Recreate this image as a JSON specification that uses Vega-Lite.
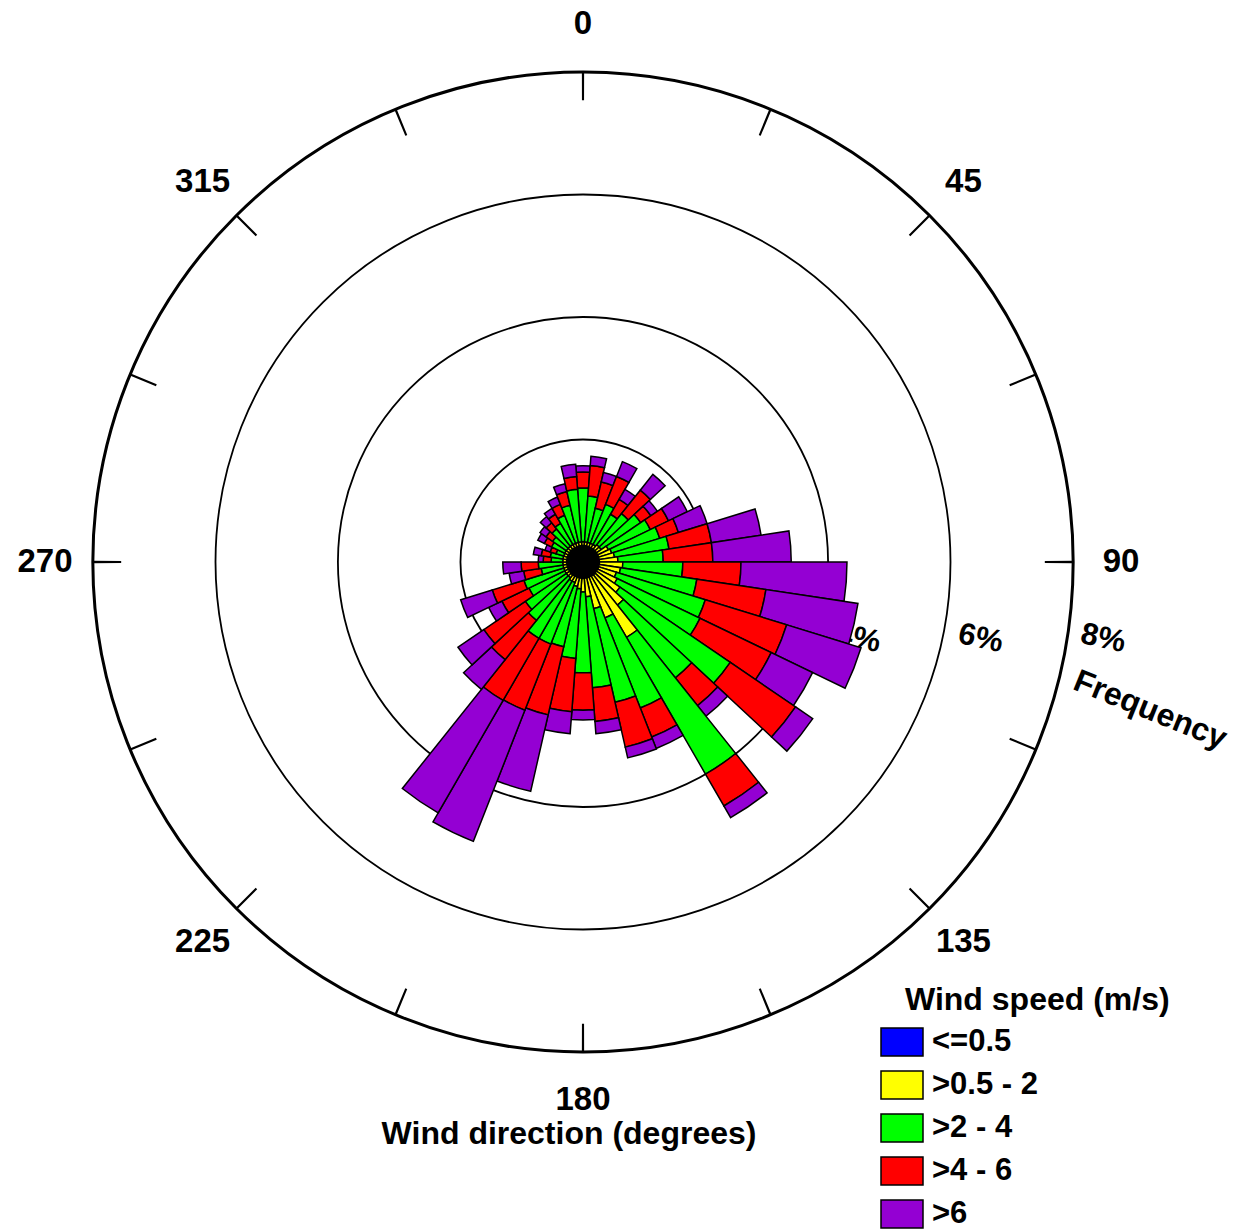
{
  "$schema": "https://vega.github.io/schema/vega-lite/v6.json",
  "width": 980,
  "height": 980,
  "autosize": {"type": "none"},
  "padding": {"left": 93, "top": 72, "right": 170, "bottom": 178},
  "background": "white",
  "config": {"view": {"stroke": null}, "font": "Liberation Sans"},
  "datasets": {
    "wind": [
      {"d":0,"s":"<=0.5","f":0.05},{"d":0,"s":">0.5 - 2","f":0.28},{"d":0,"s":">2 - 4","f":0.88},{"d":0,"s":">4 - 6","f":0.26},{"d":0,"s":">6","f":0.10},
      {"d":8.57,"s":"<=0.5","f":0.05},{"d":8.57,"s":">0.5 - 2","f":0.28},{"d":8.57,"s":">2 - 4","f":0.75},{"d":8.57,"s":">4 - 6","f":0.50},{"d":8.57,"s":">6","f":0.15},
      {"d":17.14,"s":"<=0.5","f":0.05},{"d":17.14,"s":">0.5 - 2","f":0.28},{"d":17.14,"s":">2 - 4","f":0.57},{"d":17.14,"s":">4 - 6","f":0.44},{"d":17.14,"s":">6","f":0.16},
      {"d":25.71,"s":"<=0.5","f":0.05},{"d":25.71,"s":">0.5 - 2","f":0.28},{"d":25.71,"s":">2 - 4","f":0.68},{"d":25.71,"s":">4 - 6","f":0.49},{"d":25.71,"s":">6","f":0.26},
      {"d":34.29,"s":"<=0.5","f":0.05},{"d":34.29,"s":">0.5 - 2","f":0.28},{"d":34.29,"s":">2 - 4","f":0.57},{"d":34.29,"s":">4 - 6","f":0.28},{"d":34.29,"s":">6","f":0.19},
      {"d":42.86,"s":"<=0.5","f":0.05},{"d":42.86,"s":">0.5 - 2","f":0.31},{"d":42.86,"s":">2 - 4","f":0.65},{"d":42.86,"s":">4 - 6","f":0.49},{"d":42.86,"s":">6","f":0.33},
      {"d":51.43,"s":"<=0.5","f":0.05},{"d":51.43,"s":">0.5 - 2","f":0.31},{"d":51.43,"s":">2 - 4","f":0.78},{"d":51.43,"s":">4 - 6","f":0.20},{"d":51.43,"s":">6","f":0.13},
      {"d":60,"s":"<=0.5","f":0.05},{"d":60,"s":">0.5 - 2","f":0.41},{"d":60,"s":">2 - 4","f":0.76},{"d":60,"s":">4 - 6","f":0.33},{"d":60,"s":">6","f":0.34},
      {"d":68.57,"s":"<=0.5","f":0.05},{"d":68.57,"s":">0.5 - 2","f":0.44},{"d":68.57,"s":">2 - 4","f":0.82},{"d":68.57,"s":">4 - 6","f":0.32},{"d":68.57,"s":">6","f":0.49},
      {"d":77.14,"s":"<=0.5","f":0.05},{"d":77.14,"s":">0.5 - 2","f":0.47},{"d":77.14,"s":">2 - 4","f":0.90},{"d":77.14,"s":">4 - 6","f":0.70},{"d":77.14,"s":">6","f":0.82},
      {"d":85.71,"s":"<=0.5","f":0.05},{"d":85.71,"s":">0.5 - 2","f":0.52},{"d":85.71,"s":">2 - 4","f":0.74},{"d":85.71,"s":">4 - 6","f":0.81},{"d":85.71,"s":">6","f":1.28},
      {"d":94.29,"s":"<=0.5","f":0.05},{"d":94.29,"s":">0.5 - 2","f":0.60},{"d":94.29,"s":">2 - 4","f":0.98},{"d":94.29,"s":">4 - 6","f":0.95},{"d":94.29,"s":">6","f":1.73},
      {"d":102.86,"s":"<=0.5","f":0.05},{"d":102.86,"s":">0.5 - 2","f":0.57},{"d":102.86,"s":">2 - 4","f":1.26},{"d":102.86,"s":">4 - 6","f":1.14},{"d":102.86,"s":">6","f":1.52},
      {"d":111.43,"s":"<=0.5","f":0.05},{"d":111.43,"s":">0.5 - 2","f":0.52},{"d":111.43,"s":">2 - 4","f":1.52},{"d":111.43,"s":">4 - 6","f":1.39},{"d":111.43,"s":">6","f":1.27},
      {"d":120,"s":"<=0.5","f":0.05},{"d":120,"s":">0.5 - 2","f":0.57},{"d":120,"s":">2 - 4","f":1.50},{"d":120,"s":">4 - 6","f":1.29},{"d":120,"s":">6","f":0.75},
      {"d":128.57,"s":"<=0.5","f":0.05},{"d":128.57,"s":">0.5 - 2","f":0.68},{"d":128.57,"s":">2 - 4","f":2.18},{"d":128.57,"s":">4 - 6","f":1.29},{"d":128.57,"s":">6","f":0.34},
      {"d":137.14,"s":"<=0.5","f":0.05},{"d":137.14,"s":">0.5 - 2","f":0.85},{"d":137.14,"s":">2 - 4","f":1.52},{"d":137.14,"s":">4 - 6","f":0.58},{"d":137.14,"s":">6","f":0.22},
      {"d":145.71,"s":"<=0.5","f":0.05},{"d":145.71,"s":">0.5 - 2","f":1.37},{"d":145.71,"s":">2 - 4","f":2.58},{"d":145.71,"s":">4 - 6","f":0.60},{"d":145.71,"s":">6","f":0.22},
      {"d":154.29,"s":"<=0.5","f":0.05},{"d":154.29,"s":">0.5 - 2","f":0.93},{"d":154.29,"s":">2 - 4","f":1.58},{"d":154.29,"s":">4 - 6","f":0.51},{"d":154.29,"s":">6","f":0.20},
      {"d":162.86,"s":"<=0.5","f":0.05},{"d":162.86,"s":">0.5 - 2","f":0.73},{"d":162.86,"s":">2 - 4","f":1.57},{"d":162.86,"s":">4 - 6","f":0.75},{"d":162.86,"s":">6","f":0.18},
      {"d":171.43,"s":"<=0.5","f":0.05},{"d":171.43,"s":">0.5 - 2","f":0.52},{"d":171.43,"s":">2 - 4","f":1.49},{"d":171.43,"s":">4 - 6","f":0.55},{"d":171.43,"s":">6","f":0.20},
      {"d":180,"s":"<=0.5","f":0.05},{"d":180,"s":">0.5 - 2","f":0.44},{"d":180,"s":">2 - 4","f":1.32},{"d":180,"s":">4 - 6","f":0.61},{"d":180,"s":">6","f":0.16},
      {"d":188.57,"s":"<=0.5","f":0.05},{"d":188.57,"s":">0.5 - 2","f":0.39},{"d":188.57,"s":">2 - 4","f":1.14},{"d":188.57,"s":">4 - 6","f":0.87},{"d":188.57,"s":">6","f":0.36},
      {"d":197.14,"s":"<=0.5","f":0.05},{"d":197.14,"s":">0.5 - 2","f":0.36},{"d":197.14,"s":">2 - 4","f":1.01},{"d":197.14,"s":">4 - 6","f":1.14},{"d":197.14,"s":">6","f":1.28},
      {"d":205.71,"s":"<=0.5","f":0.05},{"d":205.71,"s":">0.5 - 2","f":0.31},{"d":205.71,"s":">2 - 4","f":1.08},{"d":205.71,"s":">4 - 6","f":1.16},{"d":205.71,"s":">6","f":2.30},
      {"d":214.29,"s":"<=0.5","f":0.05},{"d":214.29,"s":">0.5 - 2","f":0.31},{"d":214.29,"s":">2 - 4","f":1.08},{"d":214.29,"s":">4 - 6","f":1.17},{"d":214.29,"s":">6","f":2.12},
      {"d":222.86,"s":"<=0.5","f":0.05},{"d":222.86,"s":">0.5 - 2","f":0.28},{"d":222.86,"s":">2 - 4","f":0.89},{"d":222.86,"s":">4 - 6","f":0.82},{"d":222.86,"s":">6","f":0.62},
      {"d":231.43,"s":"<=0.5","f":0.05},{"d":231.43,"s":">0.5 - 2","f":0.28},{"d":231.43,"s":">2 - 4","f":0.81},{"d":231.43,"s":">4 - 6","f":0.82},{"d":231.43,"s":">6","f":0.51},
      {"d":240,"s":"<=0.5","f":0.05},{"d":240,"s":">0.5 - 2","f":0.28},{"d":240,"s":">2 - 4","f":0.65},{"d":240,"s":">4 - 6","f":0.49},{"d":240,"s":">6","f":0.24},
      {"d":248.57,"s":"<=0.5","f":0.05},{"d":248.57,"s":">0.5 - 2","f":0.28},{"d":248.57,"s":">2 - 4","f":0.68},{"d":248.57,"s":">4 - 6","f":0.54},{"d":248.57,"s":">6","f":0.54},
      {"d":257.14,"s":"<=0.5","f":0.05},{"d":257.14,"s":">0.5 - 2","f":0.28},{"d":257.14,"s":">2 - 4","f":0.36},{"d":257.14,"s":">4 - 6","f":0.29},{"d":257.14,"s":">6","f":0.24},
      {"d":265.71,"s":"<=0.5","f":0.05},{"d":265.71,"s":">0.5 - 2","f":0.28},{"d":265.71,"s":">2 - 4","f":0.40},{"d":265.71,"s":">4 - 6","f":0.28},{"d":265.71,"s":">6","f":0.30},
      {"d":274.29,"s":"<=0.5","f":0.05},{"d":274.29,"s":">0.5 - 2","f":0.28},{"d":274.29,"s":">2 - 4","f":0.19},{"d":274.29,"s":">4 - 6","f":0.13},{"d":274.29,"s":">6","f":0.08},
      {"d":282.86,"s":"<=0.5","f":0.05},{"d":282.86,"s":">0.5 - 2","f":0.28},{"d":282.86,"s":">2 - 4","f":0.21},{"d":282.86,"s":">4 - 6","f":0.15},{"d":282.86,"s":">6","f":0.13},
      {"d":291.43,"s":"<=0.5","f":0.05},{"d":291.43,"s":">0.5 - 2","f":0.28},{"d":291.43,"s":">2 - 4","f":0.13},{"d":291.43,"s":">4 - 6","f":0.10},{"d":291.43,"s":">6","f":0.09},
      {"d":300,"s":"<=0.5","f":0.05},{"d":300,"s":">0.5 - 2","f":0.28},{"d":300,"s":">2 - 4","f":0.24},{"d":300,"s":">4 - 6","f":0.13},{"d":300,"s":">6","f":0.12},
      {"d":308.57,"s":"<=0.5","f":0.05},{"d":308.57,"s":">0.5 - 2","f":0.28},{"d":308.57,"s":">2 - 4","f":0.27},{"d":308.57,"s":">4 - 6","f":0.13},{"d":308.57,"s":">6","f":0.12},
      {"d":317.14,"s":"<=0.5","f":0.05},{"d":317.14,"s":">0.5 - 2","f":0.28},{"d":317.14,"s":">2 - 4","f":0.36},{"d":317.14,"s":">4 - 6","f":0.13},{"d":317.14,"s":">6","f":0.13},
      {"d":325.71,"s":"<=0.5","f":0.05},{"d":325.71,"s":">0.5 - 2","f":0.28},{"d":325.71,"s":">2 - 4","f":0.40},{"d":325.71,"s":">4 - 6","f":0.17},{"d":325.71,"s":">6","f":0.11},
      {"d":334.29,"s":"<=0.5","f":0.05},{"d":334.29,"s":">0.5 - 2","f":0.28},{"d":334.29,"s":">2 - 4","f":0.49},{"d":334.29,"s":">4 - 6","f":0.19},{"d":334.29,"s":">6","f":0.13},
      {"d":342.86,"s":"<=0.5","f":0.05},{"d":342.86,"s":">0.5 - 2","f":0.28},{"d":342.86,"s":">2 - 4","f":0.62},{"d":342.86,"s":">4 - 6","f":0.23},{"d":342.86,"s":">6","f":0.13},
      {"d":351.43,"s":"<=0.5","f":0.05},{"d":351.43,"s":">0.5 - 2","f":0.28},{"d":351.43,"s":">2 - 4","f":0.86},{"d":351.43,"s":">4 - 6","f":0.21},{"d":351.43,"s":">6","f":0.20}
    ]
  },
  "layer": [
    {
      "data": {"values": [{"v": 2}, {"v": 4}, {"v": 6}]},
      "mark": {"type": "arc", "filled": false, "stroke": "black", "strokeWidth": 1.8, "theta": 0, "theta2": 6.2832},
      "encoding": {"radius": {"field": "v", "type": "quantitative", "stack": null, "scale": {"type": "linear", "domain": [0, 8], "range": [0, 490]}}}
    },
    {
      "data": {"values": [{"v": 8}]},
      "mark": {"type": "arc", "filled": false, "stroke": "black", "strokeWidth": 3, "theta": 0, "theta2": 6.2832},
      "encoding": {"radius": {"field": "v", "type": "quantitative", "stack": null, "scale": {"type": "linear", "domain": [0, 8], "range": [0, 490]}}}
    },
    {
      "data": {"values": [{"t": 0}, {"t": 22.5}, {"t": 45}, {"t": 67.5}, {"t": 90}, {"t": 112.5}, {"t": 135}, {"t": 157.5}, {"t": 180}, {"t": 202.5}, {"t": 225}, {"t": 247.5}, {"t": 270}, {"t": 292.5}, {"t": 315}, {"t": 337.5}]},
      "mark": {"type": "arc", "fill": "black", "thetaOffset": -0.0023, "theta2Offset": 0.0023},
      "encoding": {
        "theta": {"field": "t", "type": "quantitative", "stack": null, "scale": {"type": "linear", "domain": [0, 360], "range": [0, 6.283185307]}},
        "theta2": {"field": "t"},
        "radius": {"datum": 8, "type": "quantitative", "scale": {"type": "linear", "domain": [0, 8], "range": [0, 490]}},
        "radius2": {"datum": 7.54}
      }
    },
    {
      "data": {"values": [{"a": 0}, {"a": 45}, {"a": 90}, {"a": 135}, {"a": 180}, {"a": 225}, {"a": 270}, {"a": 315}]},
      "mark": {"type": "text", "radiusOffset": 48, "fontSize": 33, "fontWeight": "bold", "font": "Liberation Sans", "align": "center", "baseline": "middle", "color": "black"},
      "encoding": {
        "theta": {"field": "a", "type": "quantitative", "stack": null, "scale": {"type": "linear", "domain": [0, 360], "range": [0, 6.283185307]}},
        "radius": {"datum": 8, "type": "quantitative", "scale": {"type": "linear", "domain": [0, 8], "range": [0, 490]}},
        "text": {"field": "a", "type": "quantitative", "format": "d"}
      }
    },
    {
      "data": {"values": [{"t": "Wind direction (degrees)"}]},
      "mark": {"type": "text", "radiusOffset": 82, "dx": -14, "fontSize": 32, "fontWeight": "bold", "font": "Liberation Sans", "align": "center", "baseline": "middle", "color": "black"},
      "encoding": {
        "theta": {"datum": 180, "type": "quantitative", "scale": {"type": "linear", "domain": [0, 360], "range": [0, 6.283185307]}},
        "radius": {"datum": 8, "type": "quantitative", "scale": {"type": "linear", "domain": [0, 8], "range": [0, 490]}},
        "text": {"field": "t", "type": "nominal"}
      }
    },
    {
      "data": {"values": [{"v": 4, "lab": "4%"}, {"v": 6, "lab": "6%"}, {"v": 8, "lab": "8%"}]},
      "mark": {"type": "text", "radiusOffset": 30, "dx": 16, "dy": 75, "angle": 12, "fontSize": 31, "fontWeight": "bold", "font": "Liberation Sans", "align": "center", "baseline": "middle", "color": "black"},
      "encoding": {
        "theta": {"datum": 90, "type": "quantitative", "scale": {"type": "linear", "domain": [0, 360], "range": [0, 6.283185307]}},
        "radius": {"field": "v", "type": "quantitative", "stack": null, "scale": {"type": "linear", "domain": [0, 8], "range": [0, 490]}},
        "text": {"field": "lab", "type": "nominal"}
      }
    },
    {
      "data": {"values": [{"t": "Frequency"}]},
      "mark": {"type": "text", "radiusOffset": 0, "dx": 127, "dy": 108, "angle": 22, "fontSize": 32, "fontWeight": "bold", "font": "Liberation Sans", "align": "center", "baseline": "middle", "color": "black"},
      "encoding": {
        "theta": {"datum": 90, "type": "quantitative", "scale": {"type": "linear", "domain": [0, 360], "range": [0, 6.283185307]}},
        "radius": {"datum": 8, "type": "quantitative", "scale": {"type": "linear", "domain": [0, 8], "range": [0, 490]}},
        "text": {"field": "t", "type": "nominal"}
      }
    },
    {
      "data": {"name": "wind"},
      "transform": [{"stack": "f", "groupby": ["d"], "sort": [{"field": "s", "order": "ascending"}], "as": ["r0", "r1"]}],
      "mark": {"type": "arc", "stroke": "black", "strokeWidth": 1.5, "thetaOffset": -0.0748, "theta2Offset": 0.0748},
      "encoding": {
        "theta": {"field": "d", "type": "quantitative", "stack": null, "scale": {"type": "linear", "domain": [0, 360], "range": [0, 6.283185307]}},
        "theta2": {"field": "d"},
        "radius": {"field": "r1", "type": "quantitative", "stack": null, "scale": {"type": "linear", "domain": [0, 8], "range": [0, 490]}},
        "radius2": {"field": "r0"},
        "fill": {
          "field": "s", "type": "nominal",
          "scale": {"domain": ["<=0.5", ">0.5 - 2", ">2 - 4", ">4 - 6", ">6"], "range": ["#0000ff", "#ffff00", "#00ff00", "#ff0000", "#9400d3"]},
          "legend": {
            "title": "Wind speed (m/s)", "orient": "none", "legendX": 812, "legendY": 913,
            "symbolType": "M-1,-0.667H1V0.667H-1Z", "symbolSize": 1764, "symbolStrokeColor": "black", "symbolStrokeWidth": 1.5, "symbolOffset": -25, "symbolOpacity": 1,
            "labelFont": "Liberation Sans", "labelFontSize": 31, "labelFontWeight": "bold", "labelColor": "black", "labelOffset": 8, "labelLimit": 300,
            "titleFont": "Liberation Sans", "titleFontSize": 32, "titleFontWeight": "bold", "titleColor": "black", "titlePadding": 3, "titleLimit": 400,
            "rowPadding": 3, "padding": 0
          }
        }
      }
    },
    {
      "data": {"values": [{"c": 0.28}]},
      "mark": {"type": "arc", "fill": "black", "theta": 0, "theta2": 6.2832},
      "encoding": {"radius": {"field": "c", "type": "quantitative", "stack": null, "scale": {"type": "linear", "domain": [0, 8], "range": [0, 490]}}}
    }
  ]
}
